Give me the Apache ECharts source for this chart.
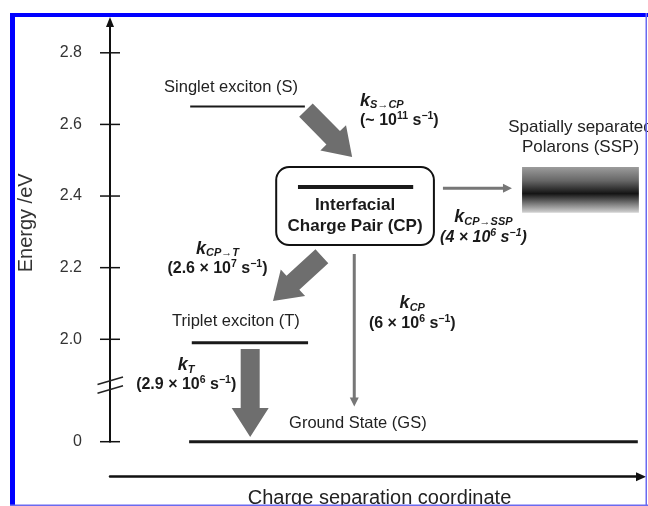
<!DOCTYPE html>
<html><head><meta charset="utf-8">
<script src="https://cdn.jsdelivr.net/npm/echarts@6/dist/echarts.min.js"></script>
<style>html,body{margin:0;padding:0;background:#fff}#c{width:648px;height:506px}</style>
</head><body><div id="c"></div>
<script>
const FONT = 'Liberation Sans, Arial, Helvetica, sans-serif';

// ---- energy axis (eV) ----
const energyTicks = [0, 2.0, 2.2, 2.4, 2.6, 2.8];
const breakBase = 1.714;   // axis position of 0 eV (below the axis break)
const breakMark = 1.872;   // where the break marks are drawn

// ---- energy levels ----
const levelNames  = ['Singlet exciton (S)', 'Interfacial\nCharge Pair (CP)', 'Triplet exciton (T)', 'Ground State (GS)'];
const levelEnergy = [2.65, 2.425, 1.99, 0];
const levelFrom   = [1.51, 3.54, 1.54, 1.49];
const levelTo     = [3.67, 5.71, 3.73, 9.94];

// ---- charge pair box and SSP band ----
const cpBoxX = [3.13, 6.10];
const cpBoxE = [2.263, 2.481];
const sspName = 'Spatially separated\nPolarons (SSP)';
const sspX = [7.76, 9.96];
const sspE = [2.353, 2.481];

// ---- transitions ----
const rateSub    = ['S→CP', 'CP→T', 'T', 'CP', 'CP→SSP'];
const ratePrefix = ['~ ', '2.6 × ', '2.9 × ', '6 × ', '4 × '];
const rateExp    = ['11', '7', '6', '6', '6'];
const transFromX = [3.69, 3.99, 2.64, 4.60, 6.27];
const transFromE = [2.640, 2.232, 1.973, 2.238, 2.422];
const transToX   = [4.56, 3.07, 2.64, 4.60, 7.57];
const transToE   = [2.509, 2.107, 0.013, 0.098, 2.422];

function toPlot(e) { return e < 1 ? breakBase + e : e; }

// ---- styles ----
const levelLineWidth = [2, 4, 3, 3];
const levelLabelOffset = [[-16.5, -19], null, [-14, -21], [100, -18]];
const levelLabelAlign = ['center', null, 'center', 'left'];
const transStyle = [
  {w: 19, hw: 36, hl: 27, color: '#6e6e6e', off: [31, -23], align: 'left', it: false},
  {w: 19, hw: 36, hl: 27, color: '#6e6e6e', off: [-80, -20], align: 'center', it: false},
  {w: 19, hw: 37, hl: 29, color: '#6e6e6e', off: [-64, -18], align: 'center', it: false},
  {w: 3, hw: 9, hl: 9, color: '#777777', off: [58, -17], align: 'center', it: false},
  {w: 3, hw: 9, hl: 9, color: '#777777', off: [6, 39], align: 'center', it: true}
];
const TXT = '#1a1a1a';
const rich = {
  k:  {fontFamily: FONT, fontSize: 18, fontWeight: 'bold', fontStyle: 'italic', fill: TXT, lineHeight: 20},
  s:  {fontFamily: FONT, fontSize: 11, fontWeight: 'bold', fontStyle: 'italic', fill: TXT, verticalAlign: 'bottom', lineHeight: 10},
  t:  {fontFamily: FONT, fontSize: 16, fontWeight: 'bold', fill: TXT, lineHeight: 20},
  ti: {fontFamily: FONT, fontSize: 16, fontWeight: 'bold', fontStyle: 'italic', fill: TXT, lineHeight: 20},
  u:  {fontFamily: FONT, fontSize: 10.5, fontWeight: 'bold', fill: TXT, verticalAlign: 'top', lineHeight: 10},
  ui: {fontFamily: FONT, fontSize: 10.5, fontWeight: 'bold', fontStyle: 'italic', fill: TXT, verticalAlign: 'top', lineHeight: 10}
};

function arrowPoints(p0, p1, w, hw, hl) {
  const dx = p1[0] - p0[0], dy = p1[1] - p0[1];
  const len = Math.hypot(dx, dy);
  const ux = dx / len, uy = dy / len, nx = -uy, ny = ux;
  const bx = p1[0] - ux * hl, by = p1[1] - uy * hl;
  return [
    [p0[0] + nx * w / 2, p0[1] + ny * w / 2],
    [bx + nx * w / 2, by + ny * w / 2],
    [bx + nx * hw / 2, by + ny * hw / 2],
    [p1[0], p1[1]],
    [bx - nx * hw / 2, by - ny * hw / 2],
    [bx - nx * w / 2, by - ny * w / 2],
    [p0[0] - nx * w / 2, p0[1] - ny * w / 2]
  ];
}

const chart = echarts.init(document.getElementById('c'), null, {renderer: 'canvas'});

const option = {
  animation: false,
  grid: {left: 110, right: 7, top: 22, bottom: 64.3, containLabel: false, outerBoundsMode: 'none'},
  xAxis: {
    type: 'value', min: 0, max: 10, offset: 35,
    name: 'Charge separation coordinate', nameLocation: 'middle', nameGap: 12,
    nameTextStyle: {fontFamily: FONT, fontSize: 20, color: '#222', padding: [0, 0, 0, 8]},
    axisLine: {show: true, symbol: ['none', 'triangle'], symbolSize: [9, 10], lineStyle: {color: '#111', width: 2.5}},
    axisTick: {show: false}, axisLabel: {show: false}, splitLine: {show: false}
  },
  yAxis: {
    type: 'value', min: breakBase, max: 2.886,
    name: 'Energy /eV', nameLocation: 'middle', nameGap: 74,
    nameTextStyle: {fontFamily: FONT, fontSize: 20, color: '#333', padding: [0, 0, 0, 18]},
    axisLine: {show: true, symbol: ['none', 'triangle'], symbolSize: [8, 10], lineStyle: {color: '#111', width: 2}},
    axisTick: {show: false},
    axisLabel: {
      customValues: energyTicks.map(toPlot), margin: 28,
      fontFamily: FONT, fontSize: 16, color: '#333',
      formatter: v => (Math.abs(v - breakBase) < 1e-6 ? '0' : v.toFixed(1))
    },
    splitLine: {show: false}
  },
  series: [
    { // axis ticks crossing the axis
      type: 'custom', z: 5,
      data: energyTicks.map(e => [0, toPlot(e)]),
      encode: {x: 0, y: 1},
      renderItem(params, api) {
        const p = api.coord([api.value(0), api.value(1)]);
        return {type: 'line', shape: {x1: p[0] - 10, y1: p[1], x2: p[0] + 10, y2: p[1]}, style: {stroke: '#111', lineWidth: 1.5}};
      }
    },
    { // axis break marks
      type: 'custom', z: 5,
      data: [[0, breakMark]],
      encode: {x: 0, y: 1},
      renderItem(params, api) {
        const p = api.coord([api.value(0), api.value(1)]);
        const ch = [-4.3, 4.3].map(d => ({
          type: 'line',
          shape: {x1: p[0] - 12.5, y1: p[1] + d + 3.75, x2: p[0] + 13, y2: p[1] + d - 3.75},
          style: {stroke: '#222', lineWidth: 1.5}
        }));
        return {type: 'group', children: ch};
      }
    },
    { // CP box
      type: 'custom', z: 2,
      data: [[cpBoxX[0], cpBoxX[1], cpBoxE[0], cpBoxE[1]]],
      encode: {x: [0, 1], y: [2, 3]},
      renderItem(params, api) {
        const a = api.coord([api.value(0), api.value(3)]);
        const b = api.coord([api.value(1), api.value(2)]);
        const cx = (a[0] + b[0]) / 2, cy = (a[1] + b[1]) / 2;
        return {type: 'group', children: [
          {type: 'rect', shape: {x: a[0], y: a[1], width: b[0] - a[0], height: b[1] - a[1], r: 13},
           style: {fill: '#fff', stroke: '#111', lineWidth: 2}},
          {type: 'text', x: cx, y: cy + 9.5, z2: 10,
           style: {text: levelNames[1], align: 'center', verticalAlign: 'middle', fontFamily: FONT,
                   fontSize: 17, fontWeight: 'bold', lineHeight: 21, fill: TXT}}
        ]};
      }
    },
    { // SSP band
      type: 'custom', z: 2,
      data: [[sspX[0], sspX[1], sspE[0], sspE[1]]],
      encode: {x: [0, 1], y: [2, 3]},
      renderItem(params, api) {
        const a = api.coord([api.value(0), api.value(3)]);
        const b = api.coord([api.value(1), api.value(2)]);
        const cx = (a[0] + b[0]) / 2, cy = (a[1] + b[1]) / 2;
        return {type: 'group', children: [
          {type: 'rect', shape: {x: a[0], y: a[1], width: b[0] - a[0], height: b[1] - a[1]},
           style: {fill: new echarts.graphic.LinearGradient(0, 0, 0, 1, [
             {offset: 0, color: '#9c9c9c'}, {offset: 0.3, color: '#666666'}, {offset: 0.58, color: '#141414'},
             {offset: 0.8, color: '#7a7a7a'}, {offset: 1, color: '#d4d4d4'}])}},
          {type: 'text', x: cx, y: cy - 53,
           style: {text: sspName, align: 'center', verticalAlign: 'middle', fontFamily: FONT,
                   fontSize: 17, lineHeight: 20, fill: '#222'}}
        ]};
      }
    },
    { // energy levels
      type: 'custom', z: 3,
      data: levelEnergy.map((e, i) => [levelFrom[i], levelTo[i], toPlot(e)]),
      encode: {x: [0, 1], y: 2},
      renderItem(params, api) {
        const i = params.dataIndex;
        const a = api.coord([api.value(0), api.value(2)]);
        const b = api.coord([api.value(1), api.value(2)]);
        const ch = [{type: 'line', shape: {x1: a[0], y1: a[1], x2: b[0], y2: b[1]},
                     style: {stroke: '#1a1a1a', lineWidth: levelLineWidth[i]}}];
        if (levelLabelOffset[i]) {
          const off = levelLabelOffset[i];
          const ax = levelLabelAlign[i] === 'left' ? a[0] : (a[0] + b[0]) / 2;
          ch.push({type: 'text', x: ax + off[0], y: a[1] + off[1],
                   style: {text: levelNames[i], align: levelLabelAlign[i], verticalAlign: 'middle',
                           fontFamily: FONT, fontSize: 16.5, fill: '#222'}});
        }
        return {type: 'group', children: ch};
      }
    },
    { // transitions
      type: 'custom', z: 4,
      data: transFromX.map((x, i) => [x, toPlot(transFromE[i]), transToX[i], toPlot(transToE[i])]),
      encode: {x: [0, 2], y: [1, 3]},
      renderItem(params, api) {
        const i = params.dataIndex, st = transStyle[i];
        const p0 = api.coord([api.value(0), api.value(1)]);
        const p1 = api.coord([api.value(2), api.value(3)]);
        const mx = (p0[0] + p1[0]) / 2, my = (p0[1] + p1[1]) / 2;
        const T = st.it ? 'ti' : 't', U = st.it ? 'ui' : 'u';
        const txt = '{k|k}{s|' + rateSub[i] + '}\n{' + T + '|(' + ratePrefix[i] + '10}{' + U + '|' + rateExp[i] +
                    '}{' + T + '| s}{' + U + '|−1}{' + T + '|)}';
        return {type: 'group', children: [
          {type: 'polygon', shape: {points: arrowPoints(p0, p1, st.w, st.hw, st.hl)}, style: {fill: st.color}},
          {type: 'text', x: mx + st.off[0], y: my + st.off[1],
           style: {text: txt, rich: rich, align: st.align, verticalAlign: 'middle', fontFamily: FONT, fontSize: 16}}
        ]};
      }
    }
  ],
  graphic: [
    {type: 'rect', z: 100, shape: {x: 10, y: 13, width: 5, height: 493}, style: {fill: '#0000ff'}},
    {type: 'rect', z: 100, shape: {x: 10, y: 13, width: 638, height: 4}, style: {fill: '#0000ff'}},
    {type: 'rect', z: 100, shape: {x: 645.5, y: 13, width: 1.5, height: 493}, style: {fill: '#6a6af0'}},
    {type: 'rect', z: 100, shape: {x: 10, y: 504.5, width: 638, height: 1.5}, style: {fill: '#6a6af0'}}
  ]
};
chart.setOption(option);
</script>
</body></html>
